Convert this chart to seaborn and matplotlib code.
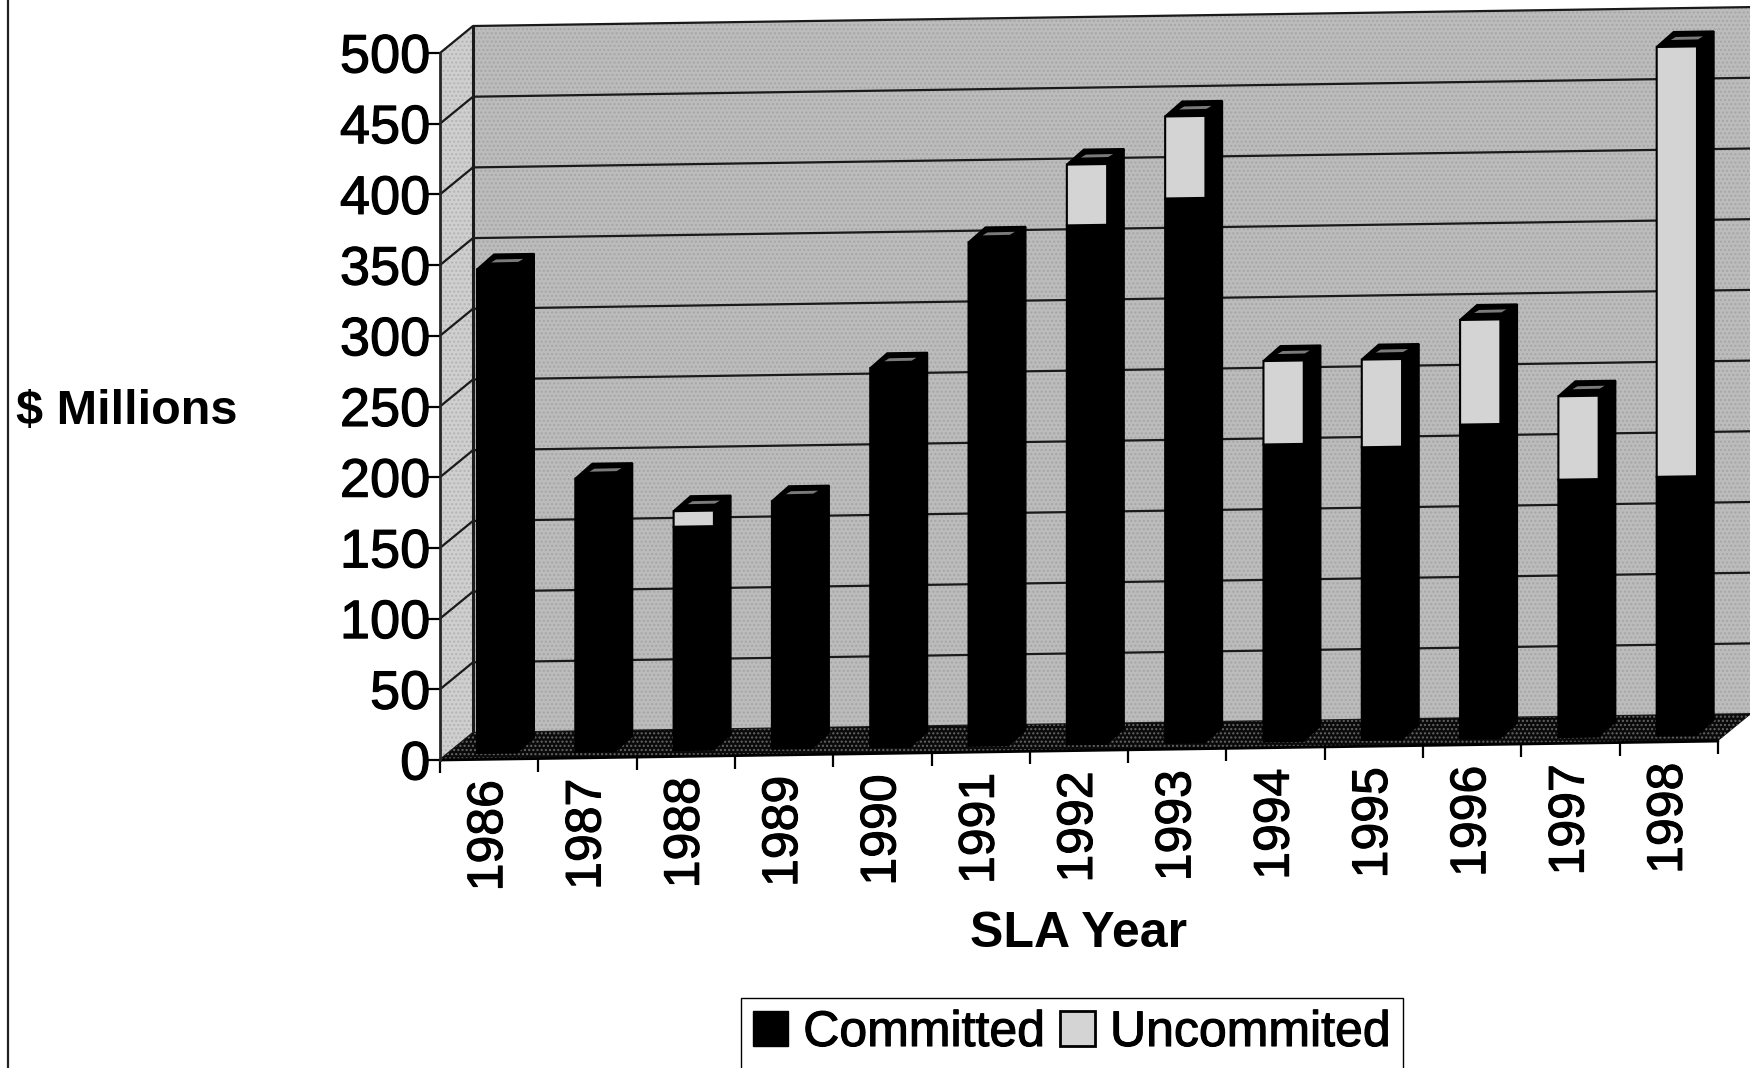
import numpy as np
import pandas as pd
import matplotlib
matplotlib.use("Agg")
import matplotlib.pyplot as plt
import matplotlib.patheffects as pe
import seaborn as sns
from matplotlib.lines import Line2D
from matplotlib.patches import Patch, Polygon
from matplotlib.transforms import Affine2D, IdentityTransform

years = ["1986", "1987", "1988", "1989", "1990", "1991", "1992",
         "1993", "1994", "1995", "1996", "1997", "1998"]
committed = [342, 193, 158, 175, 268, 356, 367, 385, 210, 207, 222, 182, 183]
uncommitted = [0, 0, 11, 0, 0, 0, 43, 58, 59, 62, 74, 59, 304]
yticks = [0, 50, 100, 150, 200, 250, 300, 350, 400, 450, 500]

sns.set_theme(style="ticks")
plt.rcParams["font.family"] = ["Liberation Sans", "DejaVu Sans"]
plt.rcParams["hatch.linewidth"] = 1.0
plt.rcParams["text.color"] = "black"
plt.rcParams["axes.labelcolor"] = "black"
plt.rcParams["xtick.color"] = "black"
plt.rcParams["ytick.color"] = "black"

W, H = 1750, 1068
fig = plt.figure(figsize=(W / 100, H / 100), dpi=100, facecolor="white")
ax = fig.add_axes([440 / W, 1 - 760 / H, (1718 - 440) / W, (760 - 53) / H])
ax.patch.set_visible(False)

df = pd.DataFrame({"year": years, "committed": committed, "uncommitted": uncommitted})
sns.barplot(data=df, x="year", y="committed", color="black", saturation=1,
            width=0.41, ax=ax, errorbar=None, edgecolor="black", linewidth=1.5)
sns.barplot(data=df, x="year", y="uncommitted", bottom=df["committed"].values,
            color="#d4d4d4", saturation=1, width=0.41, ax=ax, errorbar=None,
            edgecolor="black", linewidth=1.5)

ax.set_xlim(-0.5, 12.5)
ax.set_ylim(0, 500)
ax.set_yticks(yticks)
ax.set_xticks(range(len(years)))
ax.set_xticklabels(years)
ax.set_xticks(np.arange(-0.5, 13), minor=True)
ax.tick_params(axis="x", which="major", length=0, pad=15, labelsize=36, labelrotation=90)
ax.tick_params(axis="x", which="minor", length=9, width=1.6)
ax.tick_params(axis="y", length=9, width=1.6, pad=-2, labelsize=39)
for side in ["top", "right", "bottom"]:
    ax.spines[side].set_visible(False)
ax.spines["left"].set_linewidth(2)

# the scan runs slightly uphill, so everything on the x axis gets sheared
slope = 0.0148
shear = Affine2D.from_values(1, slope, 0, 1, 0, -slope * 440)
front_t = ax.transData + shear
bar_t = front_t + Affine2D().translate(8, 6.5)
wall_t = front_t + Affine2D().translate(33, 27)

for tick in ax.xaxis.get_major_ticks():
    tick.label1.set_transform(tick.label1.get_transform() + shear)
for tick in ax.xaxis.get_minor_ticks():
    tick.tick1line.set_transform(tick.tick1line.get_transform() + shear)

# back wall and gridlines
wall = ax.fill_between([-0.5, 12.5], 0, 500, facecolor="#bcbcbc", edgecolor="#a6a6a6",
                       hatch="....", linewidth=0, zorder=0.2, clip_on=False)
wall.set_transform(wall_t)
grid = ax.hlines(yticks, -0.5, 12.5, color="#1a1a1a", linewidth=1.6, zorder=0.5, clip_on=False)
grid.set_transform(wall_t)
ax.vlines(-0.5, 0, 500, color="#1a1a1a", linewidth=2.2, zorder=0.6, transform=wall_t, clip_on=False)


def to_px(tr, x, y):
    return tr.transform((x, y))


# side wall with its diagonal gridlines
side_pts = [to_px(front_t, -0.5, 0), to_px(front_t, -0.5, 500),
            to_px(wall_t, -0.5, 500), to_px(wall_t, -0.5, 0)]
ax.add_patch(Polygon(side_pts, closed=True, transform=IdentityTransform(), facecolor="#cfcfcf",
                     edgecolor="#b4b4b4", hatch="....", linewidth=0, zorder=0.3, clip_on=False))
for v in yticks:
    a, b = to_px(front_t, -0.5, v), to_px(wall_t, -0.5, v)
    ax.add_line(Line2D([a[0], b[0]], [a[1], b[1]], transform=IdentityTransform(),
                       color="#1a1a1a", linewidth=1.6, zorder=0.5, clip_on=False))

# floor
floor_pts = [to_px(front_t, -0.5, 0), to_px(front_t, 12.5, 0),
             to_px(wall_t, 12.5, 0), to_px(wall_t, -0.5, 0)]
ax.add_patch(Polygon(floor_pts, closed=True, transform=IdentityTransform(), facecolor="#0a0a0a",
                     edgecolor="#666666", hatch="....", linewidth=0, zorder=1, clip_on=False))
ax.add_line(Line2D([-0.5, 12.5], [0, 0], transform=front_t, color="black", linewidth=2,
                   zorder=1.2, clip_on=False))

# 3d faces of the bars
dx, dy = 17, 15
fronts = [p for c in ax.containers for p in c]
for p in fronts:
    p.set_transform(bar_t)
    p.set_zorder(3)
    p.set_clip_on(False)
    if p.get_height() <= 0:
        p.set_visible(False)
        continue
    x0, x1 = p.get_x(), p.get_x() + p.get_width()
    y0, y1 = p.get_y(), p.get_y() + p.get_height()
    a, b = to_px(bar_t, x1, y0), to_px(bar_t, x1, y1)
    ax.add_patch(Polygon([a, b, b + (dx, dy), a + (dx, dy)], closed=True,
                         transform=IdentityTransform(), facecolor="black", edgecolor="black",
                         linewidth=1, zorder=2.5, clip_on=False))

for i in range(len(years)):
    top = committed[i] + uncommitted[i]
    half = 0.205
    a, b = to_px(bar_t, i - half, top), to_px(bar_t, i + half, top)
    ax.add_patch(Polygon([a, b, b + (dx, dy), a + (dx, dy)], closed=True,
                         transform=IdentityTransform(), facecolor="black", edgecolor="black",
                         linewidth=1.5, zorder=2.6, clip_on=False))
    ax.add_patch(Polygon([a + (14, 7), b + (1, 7), b + (6, 10), a + (19, 10)], closed=True,
                         transform=IdentityTransform(), facecolor="#7a7a7a", linewidth=0,
                         zorder=2.7, clip_on=False))

ax.set_ylabel("$ Millions", fontsize=35, fontweight="bold", rotation=0, ha="left", va="center")
ax.yaxis.set_label_coords(16 / W, 1 - 411 / H, transform=fig.transFigure)
ax.set_xlabel("SLA Year", fontsize=36, fontweight="bold", ha="center", va="center")
ax.xaxis.set_label_coords(1079 / W, 1 - 934 / H, transform=fig.transFigure)

handles = [Patch(facecolor="black", edgecolor="black", label="Committed"),
           Patch(facecolor="#d4d4d4", edgecolor="black", linewidth=2, label="Uncommited")]
leg = fig.legend(handles=handles, loc="center", bbox_to_anchor=(1072 / W, 1 - 1033 / H), ncol=2,
                 fontsize=36, frameon=True, fancybox=False, framealpha=1, edgecolor="black",
                 handlelength=0.7, handleheight=0.7, handletextpad=0.3, columnspacing=0.3,
                 borderpad=0.25, borderaxespad=0)

# printed text in the scan is heavier than the regular face
stroke = [pe.withStroke(linewidth=0.8, foreground="black")]
for t in ax.get_xticklabels() + ax.get_yticklabels() + leg.get_texts():
    t.set_path_effects(stroke)

# edge of the scanned page
fig.add_artist(Line2D([8 / W, 8 / W], [0, 1], color="#222222", linewidth=1.6))

fig.savefig("out.png", dpi=100, facecolor="white")
plt.close(fig)
